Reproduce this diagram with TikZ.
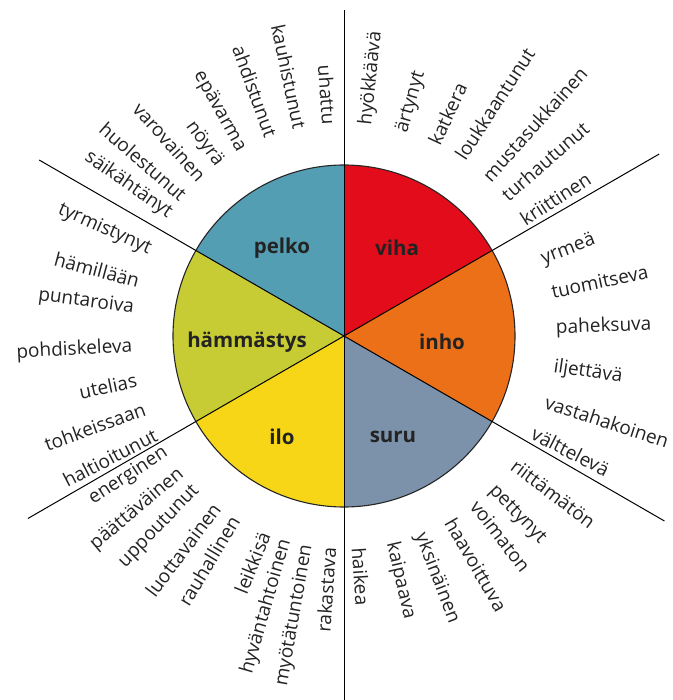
\documentclass[tikz,border=0pt]{standalone}
\usepackage{fontspec}
\setmainfont{Open Sans}
\usepackage{tikz}
\usetikzlibrary{positioning}

\definecolor{pelkocol}{RGB}{84,158,180}
\definecolor{vihacol}{RGB}{226,12,26}
\definecolor{inhocol}{RGB}{236,112,24}
\definecolor{surucol}{RGB}{124,146,170}
\definecolor{ilocol}{RGB}{246,214,22}
\definecolor{hammcol}{RGB}{200,204,52}
\definecolor{inkcol}{RGB}{35,35,35}

\begin{document}
\begin{tikzpicture}[x=1pt,y=1pt,
  word/.style={font=\fontsize{19}{22}\selectfont, text=inkcol, inner sep=0pt},
  feel/.style={font=\fontsize{20.5}{24}\selectfont\bfseries, text=inkcol, inner sep=1pt}]
\useasboundingbox (-344,-364) rectangle (328,336);
\coordinate (c) at (0,0);
\def\R{171}
\def\rin{212}
% sectors of the wheel
\fill[vihacol] (c) -- (90:\R) arc[start angle=90,end angle=30,radius=\R] -- cycle;
\fill[inhocol] (c) -- (30:\R) arc[start angle=30,end angle=-30,radius=\R] -- cycle;
\fill[surucol] (c) -- (-30:\R) arc[start angle=-30,end angle=-90,radius=\R] -- cycle;
\fill[ilocol] (c) -- (-90:\R) arc[start angle=-90,end angle=-150,radius=\R] -- cycle;
\fill[hammcol] (c) -- (-150:\R) arc[start angle=-150,end angle=-210,radius=\R] -- cycle;
\fill[pelkocol] (c) -- (150:\R) arc[start angle=150,end angle=90,radius=\R] -- cycle;
\draw[line width=1.1pt, black!85] (c) circle[radius=\R];
% dividing lines
\draw[line width=1pt] (c) -- (90:326);
\draw[line width=1pt] (c) -- (30:364);
\draw[line width=1pt] (c) -- (-30:370);
\draw[line width=1pt] (c) -- (-90:364);
\draw[line width=1pt] (c) -- (-150:365);
\draw[line width=1pt] (c) -- (150:352);
% basic feelings
\node[feel] (pelko) at (-62,88) {pelko};
\node[feel] (viha) at (53,88) {viha};
\node[feel] (hammastys) at (-97,-6) {hämmästys};
\node[feel] (inho) at (98,-6) {inho};
\node[feel] (ilo) at (-62,-101) {ilo};
\node[feel] (suru) at (49,-101) {suru};
% words, left half read inwards
\foreach \w/\a [count=\i] in {uhattu/94,kauhistunut/102,ahdistunut/110,epävarma/119,nöyrä/126,varovainen/132,huolestunut/139,säikähtänyt/145}
    \node[word,anchor=east,rotate=\a-180] (pelko\i) at (\a:\rin) {\w};
\foreach \w/\a [count=\i] in {tyrmistynyt/156,hämillään/165,puntaroiva/172.5,pohdiskeleva/183,utelias/192,tohkeissaan/200,haltioitunut/207.5}
    \node[word,anchor=east,rotate=\a-180] (hammastys\i) at (\a:\rin) {\w};
\foreach \w/\a [count=\i] in {energinen/-147,päättäväinen/-140,uppoutunut/-134,luottavainen/-127,rauhallinen/-121,leikkisä/-112,hyväntahtoinen/-106,myötätuntoinen/-100,rakastava/-94}
    \node[word,anchor=east,rotate=\a+180] (ilo\i) at (\a:\rin) {\w};
% words, right half read outwards
\foreach \w/\a [count=\i] in {hyökkäävä/84,ärtynyt/74,katkera/65,loukkaantunut/57,mustasukkainen/48,turhautunut/41,kriittinen/33}
    \node[word,anchor=west,rotate=\a] (viha\i) at (\a:\rin) {\w};
\foreach \w/\a [count=\i] in {yrmeä/21,tuomitseva/12,paheksuva/2,iljettävä/-8.5,vastahakoinen/-18,välttelevä/-27}
    \node[word,anchor=west,rotate=\a] (inho\i) at (\a:\rin) {\w};
\foreach \w/\a [count=\i] in {riittämätön/-37,pettynyt/-46,voimaton/-52,haavoittuva/-60,yksinäinen/-69,kaipaava/-77,haikea/-86}
    \node[word,anchor=west,rotate=\a] (suru\i) at (\a:\rin) {\w};
\end{tikzpicture}
\end{document}
